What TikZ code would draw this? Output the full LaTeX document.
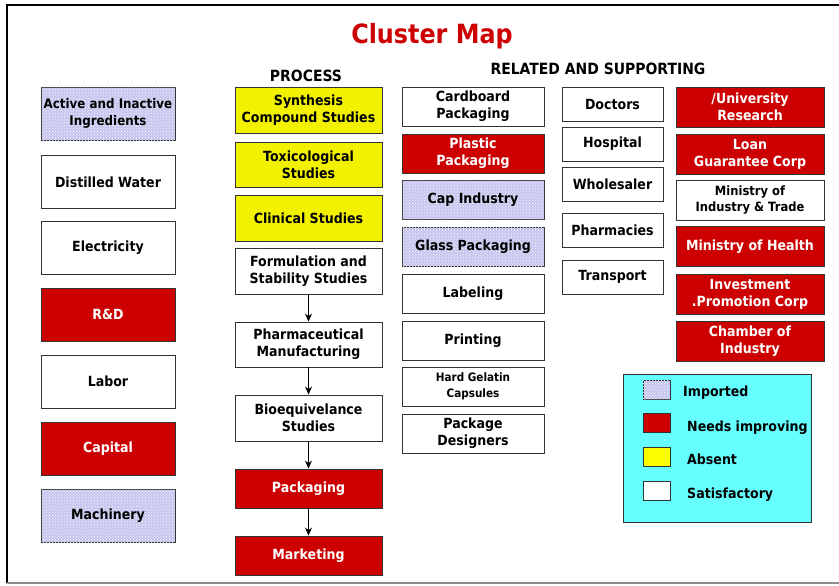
\documentclass[tikz,border=0pt]{standalone}
\usepackage{fontspec}
\setmainfont{DejaVu Sans}[FakeStretch=0.9]
\usetikzlibrary{arrows.meta,patterns}
\definecolor{needred}{HTML}{CC0000}
\definecolor{absentyel}{HTML}{F2F200}
\definecolor{legyel}{HTML}{FFFF00}
\definecolor{lav}{HTML}{C6C6EE}
\definecolor{legcyan}{HTML}{66FFFF}
\definecolor{edge}{HTML}{333333}
\tikzset{
  box/.style={draw=edge, line width=0.9pt, inner sep=0pt, align=center,
    font=\fontsize{14}{16.8}\selectfont\bfseries},
  sat/.style={box, fill=white, text=black},
  red/.style={box, fill=needred, text=white},
  yel/.style={box, fill=absentyel, text=black},
  imp/.style={box, fill=lav, text=black,
    postaction={pattern=crosshatch dots, pattern color=white!85!lav}},
  lcol/.style={minimum width=134pt, minimum height=53pt},
  pcol/.style={minimum width=147pt},
  rcolA/.style={minimum width=142pt, minimum height=39pt},
  rcolB/.style={minimum width=101pt, minimum height=34pt},
  rcolC/.style={minimum width=148pt, minimum height=40pt},
  swatch/.style={draw=edge, line width=0.9pt, minimum width=27pt, minimum height=19pt, inner sep=0pt},
  legtext/.style={anchor=west, inner sep=0pt, font=\fontsize{14}{16}\selectfont\bfseries},
  header/.style={inner sep=0pt, font=\fontsize{15.5}{17}\selectfont\bfseries},
  flow/.style={-{Stealth[length=8pt,width=7pt]}, line width=0.9pt, draw=black}
}
\begin{document}
\begin{tikzpicture}[x=1pt,y=-1pt]
\useasboundingbox (0,0) rectangle (839,586);
% frame
\draw[line width=2pt, black] (839,5) -- (7,5) -- (7,583);
\draw[line width=1.5pt, black!45] (7,583) -- (839,583);
% titles
\node[inner sep=0pt, text=needred, font=\fontsize{26.5}{30}\selectfont\bfseries] (title) at (432,36) {Cluster Map};
\node[header] (hproc) at (306,76) {PROCESS};
\node[header] (hrel) at (598,69) {RELATED AND SUPPORTING};
% left column
\node[imp, lcol, font=\fontsize{13.2}{16.5}\selectfont\bfseries] (ing) at (108,113.5) {Active and Inactive\\Ingredients};
\node[sat, lcol] (water) at (108,182) {Distilled Water};
\node[sat, lcol] (elec) at (108,248) {Electricity};
\node[red, lcol] (rnd) at (108,314.5) {R\&D};
\node[sat, lcol] (labor) at (108,381.5) {Labor};
\node[red, lcol] (capital) at (108,448.5) {Capital};
\node[imp, lcol] (mach) at (108,515.5) {Machinery};
% process column
\node[yel, pcol, minimum height=46pt] (synth) at (308.5,110) {Synthesis\\Compound Studies};
\node[yel, pcol, minimum height=45pt] (tox) at (308.5,164.5) {Toxicological\\Studies};
\node[yel, pcol, minimum height=46pt] (clin) at (308.5,218) {Clinical Studies};
\node[sat, pcol, minimum height=46pt] (form) at (308.5,271) {Formulation and\\Stability Studies};
\node[sat, pcol, minimum height=45pt] (pharm) at (308.5,344.5) {Pharmaceutical\\Manufacturing};
\node[sat, pcol, minimum height=46pt] (bio) at (308.5,418) {Bioequivelance\\Studies};
\node[red, pcol, minimum height=39pt] (pack) at (308.5,488.5) {Packaging};
\node[red, pcol, minimum height=39pt] (mark) at (308.5,555.5) {Marketing};
\draw[flow] (form) -- (pharm);
\draw[flow] (pharm) -- (bio);
\draw[flow] (bio) -- (pack);
\draw[flow] (pack) -- (mark);
% related column A
\node[sat, rcolA] (card) at (473,106.5) {Cardboard\\Packaging};
\node[red, rcolA] (plastic) at (473,153.5) {Plastic\\Packaging};
\node[imp, rcolA] (cap) at (473,200) {Cap Industry};
\node[imp, rcolA] (glass) at (473,247) {Glass Packaging};
\node[sat, rcolA] (label) at (473,294) {Labeling};
\node[sat, rcolA] (print) at (473,340.5) {Printing};
\node[sat, rcolA, font=\fontsize{11.6}{15.5}\selectfont\bfseries] (hard) at (473,386.5) {Hard Gelatin\\Capsules};
\node[sat, rcolA] (design) at (473,433.5) {Package\\Designers};
% related column B
\node[sat, rcolB] (doctors) at (612.5,104) {Doctors};
\node[sat, rcolB] (hospital) at (612.5,144) {Hospital};
\node[sat, rcolB] (whole) at (612.5,184.5) {Wholesaler};
\node[sat, rcolB] (pharmacies) at (612.5,230) {Pharmacies};
\node[sat, rcolB] (transport) at (612.5,277) {Transport};
% related column C
\node[red, rcolC] (univ) at (750,107) {/University\\Research};
\node[red, rcolC] (loan) at (750,154) {Loan\\Guarantee Corp};
\node[sat, rcolC, font=\fontsize{12.8}{16}\selectfont\bfseries] (mit) at (750,200.5) {Ministry of\\Industry \& Trade};
\node[red, rcolC] (moh) at (750,246.5) {Ministry of Health};
\node[red, rcolC] (invest) at (750,294) {Investment\\.Promotion Corp};
\node[red, rcolC] (chamber) at (750,341) {Chamber of\\Industry};
% legend
\node[draw=edge, line width=0.9pt, fill=legcyan, minimum width=188pt, minimum height=148pt, inner sep=0pt] (legend) at (717,448) {};
\node[swatch, fill=lav, postaction={pattern=crosshatch dots, pattern color=white!85!lav}] (swimp) at (656.5,389.5) {};
\node[swatch, fill=needred] (swred) at (656.5,423) {};
\node[swatch, fill=legyel] (swyel) at (656.5,456.5) {};
\node[swatch, fill=white] (swsat) at (656.5,491) {};
\node[legtext] (limp) at (683,393) {Imported};
\node[legtext] (lred) at (687,428) {Needs improving};
\node[legtext] (lyel) at (687,459) {Absent};
\node[legtext] (lsat) at (687,495) {Satisfactory};
\end{tikzpicture}
\end{document}
